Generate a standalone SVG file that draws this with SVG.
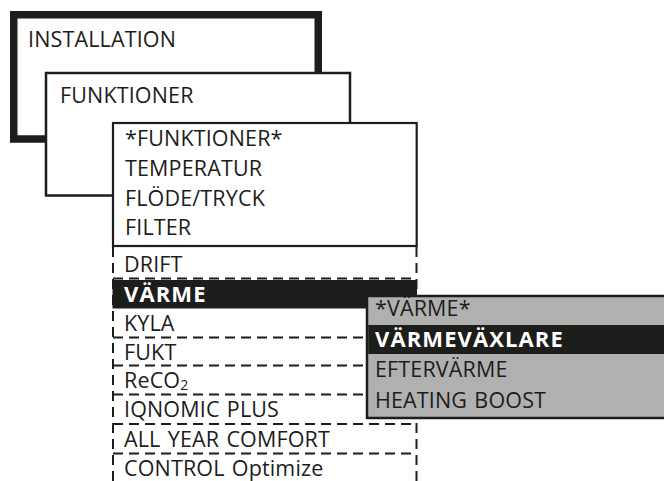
<svg xmlns="http://www.w3.org/2000/svg" width="664" height="481" viewBox="0 0 664 481">
<style>
text{font-family:"Open Sans","Noto Sans","Liberation Sans",sans-serif;font-size:21.5px;font-weight:400;letter-spacing:0.15px;word-spacing:1.5px;fill:#1d1d1b}
.b{font-size:22px;font-weight:700;letter-spacing:1.1px;fill:#ffffff}
.box{fill:#ffffff;stroke:#1d1d1b}
.dash{fill:none;stroke:#1d1d1b;stroke-width:2;stroke-dasharray:10 6}
</style>
<rect width="664" height="481" fill="#ffffff"/>
<g id="installation">
<rect class="box" x="13.75" y="14.75" width="304.5" height="124.25" stroke-width="7.5"/>
<text x="28" y="47">INSTALLATION</text>
</g>
<g id="funktioner">
<rect class="box" x="46" y="73" width="304" height="122.5" stroke-width="2.5"/>
<text x="60" y="103">FUNKTIONER</text>
</g>
<g id="funktioner-menu">
<rect class="box" x="113" y="123" width="303.7" height="123" stroke-width="2.2"/>
<text x="125" y="146">*FUNKTIONER*</text>
<text x="125" y="176">TEMPERATUR</text>
<text x="125" y="206">FLÖDE/TRYCK</text>
<text x="125" y="235">FILTER</text>
</g>
<g id="connectors">
<line class="dash" x1="113" y1="247" x2="113" y2="481"/>
<line class="dash" x1="416.5" y1="247" x2="416.5" y2="481"/>
<line class="dash" x1="113" y1="278.5" x2="416.5" y2="278.5"/>
<line class="dash" x1="113" y1="337.5" x2="416.5" y2="337.5"/>
<line class="dash" x1="113" y1="365.5" x2="416.5" y2="365.5"/>
<line class="dash" x1="113" y1="394.5" x2="416.5" y2="394.5"/>
<line class="dash" x1="113" y1="424" x2="416.5" y2="424"/>
<line class="dash" x1="113" y1="453.5" x2="416.5" y2="453.5"/>
</g>
<g id="list">
<text x="124" y="272">DRIFT</text>
<rect x="112.5" y="280" width="304.5" height="28.5" fill="#1d1d1b"/>
<text class="b" x="124" y="302">VÄRME</text>
<text x="124" y="331">KYLA</text>
<text x="124" y="360">FUKT</text>
<text x="124" y="388">ReCO<tspan font-size="14" dy="2">2</tspan></text>
<text x="124" y="417">IQNOMIC PLUS</text>
<text x="124" y="447">ALL YEAR COMFORT</text>
<text x="124" y="476">CONTROL Optimize</text>
</g>
<g id="varme-menu">
<rect x="367" y="296" width="310" height="122" fill="#b0b0b0" stroke="#1d1d1b" stroke-width="2.5"/>
<rect x="368.25" y="325" width="300" height="29" fill="#1d1d1b"/>
<text x="375" y="316">*VÄRME*</text>
<text class="b" x="375" y="347">VÄRMEVÄXLARE</text>
<text x="375" y="377">EFTERVÄRME</text>
<text x="375" y="408">HEATING BOOST</text>
</g>
</svg>
